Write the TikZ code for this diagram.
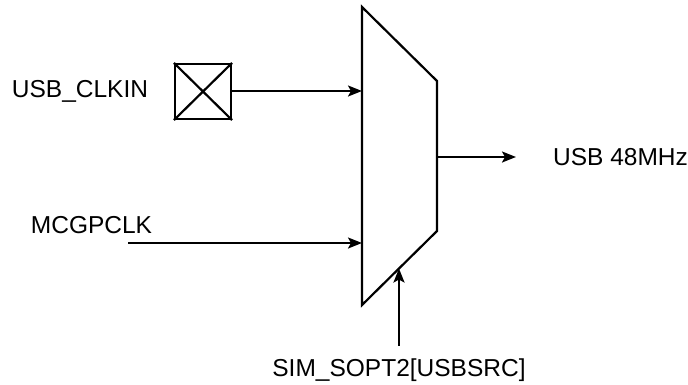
\documentclass[tikz,border=0pt]{standalone}
\usepackage{fontspec}
\setmainfont{Liberation Sans}
\usetikzlibrary{arrows.meta,calc}
\begin{document}
\begin{tikzpicture}[x=1pt,y=-1pt,
  line width=2.2pt,
  lbl/.style={inner sep=0pt,font=\fontsize{24.5}{28}\selectfont},
  sig/.style={-{Stealth[length=14pt,width=11pt,inset=3pt]}},
  xbox/.style={draw,minimum width=56pt,minimum height=55pt,inner sep=0pt}]
\useasboundingbox (0,0) rectangle (688,384);
% mux corners
\coordinate (mtl) at (362,7);
\coordinate (mtr) at (437,81);
\coordinate (mbr) at (437,231);
\coordinate (mbl) at (362,305);
\draw[line join=miter] (mtl) -- (mtr) -- (mbr) -- (mbl) -- cycle;
% input pins
\coordinate (in1) at (362,91);
\coordinate (in2) at (362,243);
\coordinate (outs) at (437,157);
\coordinate (sel) at ($(mbl)!0.493!(mbr)$);
% box
\node[xbox] (pad) at (203,91.5) {};
\draw (pad.north west) -- (pad.south east);
\draw (pad.south west) -- (pad.north east);
% labels
\node[lbl,anchor=base] (clkin) at (80,97.5) {USB\_CLKIN};
\node[lbl,anchor=base] (mcg) at (91.5,233.5) {MCGPCLK};
\node[lbl,anchor=base west] (usb48) at (552,165.5) {USB 48MHz};
\node[lbl,anchor=base] (simsel) at (399,376.5) {SIM\_SOPT2[USBSRC]};
% connectors
\coordinate (mcgstart) at (128,243);
\coordinate (outend) at (516,157);
\coordinate (selstart) at (399,345);
\draw[sig] (pad.east |- in1) -- (in1);
\draw[sig] (mcgstart) -- (in2);
\draw[sig] (outs) -- (outend);
\draw[sig] (selstart) -- (sel |- selstart) -- (sel);
\end{tikzpicture}
\end{document}
